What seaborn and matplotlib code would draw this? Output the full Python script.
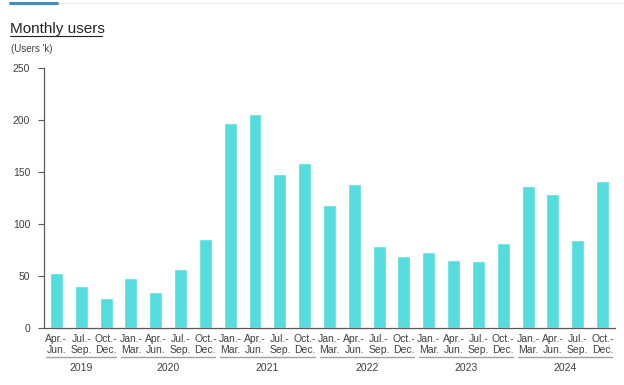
import numpy as np
import pandas as pd
import matplotlib
matplotlib.use("Agg")
import matplotlib.pyplot as plt
from matplotlib.lines import Line2D
import seaborn as sns

years = ["2019", "2020", "2021", "2022", "2023", "2024"]
quarters_per_year = [3, 4, 4, 4, 4, 4]
quarter_labels = ["Apr.-\nJun.", "Jul.-\nSep.", "Oct.-\nDec.",
                  "Jan.-\nMar.", "Apr.-\nJun.", "Jul.-\nSep.", "Oct.-\nDec.",
                  "Jan.-\nMar.", "Apr.-\nJun.", "Jul.-\nSep.", "Oct.-\nDec.",
                  "Jan.-\nMar.", "Apr.-\nJun.", "Jul.-\nSep.", "Oct.-\nDec.",
                  "Jan.-\nMar.", "Apr.-\nJun.", "Jul.-\nSep.", "Oct.-\nDec.",
                  "Jan.-\nMar.", "Apr.-\nJun.", "Jul.-\nSep.", "Oct.-\nDec."]
users = [53, 40, 29, 48, 35, 57, 86, 197, 206, 148, 159, 118, 138,
         79, 69, 73, 65, 64, 82, 137, 129, 85, 141]

df = pd.DataFrame({"period": [f"p{i}" for i in range(len(users))], "users": users})

sns.set_style("white")
plt.rcParams["font.family"] = ["Liberation Sans", "DejaVu Sans"]

fig = plt.figure(figsize=(6.24, 3.85), dpi=100)
ax = fig.add_axes([0.0705, 0.148, 0.915, 0.6754])

sns.barplot(data=df, x="period", y="users", color="#55DDDD", saturation=1,
            width=0.52, ax=ax)

ax.set_xlim(-0.5, len(users) - 0.5)
ax.set_ylim(0, 250)
ax.set_yticks([0, 50, 100, 150, 200, 250])
ax.set_xticks(range(len(users)))
ax.set_xticklabels(quarter_labels, fontsize=7.5, color="#404040", linespacing=1.2)
ax.tick_params(axis="y", labelsize=7.5, labelcolor="#404040", left=True,
               length=4, width=0.8, color="#595959", pad=6)
ax.tick_params(axis="x", bottom=False, pad=0.5)
ax.set_xlabel("")
ax.set_ylabel("")
for side in ["top", "right"]:
    ax.spines[side].set_visible(False)
for side in ["left", "bottom"]:
    ax.spines[side].set_color("#595959")
    ax.spines[side].set_linewidth(0.9)

# year group labels
trans = ax.get_xaxis_transform()
start = 0
for yr, n in zip(years, quarters_per_year):
    end = start + n - 1
    ax.plot([start - 0.4, end + 0.4], [-0.112, -0.112], transform=trans,
            color="#A0A0A0", lw=1.0, clip_on=False)
    ax.text((start + end) / 2, -0.155, yr, transform=trans, ha="center",
            va="center", fontsize=7.5, color="#404040")
    start = end + 1

# header decorations
fig.add_artist(Line2D([0.016, 1.0], [0.992, 0.992], color="#EEEEEE", lw=1.0))
fig.add_artist(Line2D([0.016, 0.091], [0.993, 0.993], color="#3C8DC8", lw=2.2))

fig.text(0.016, 0.924, "Monthly users", fontsize=11, color="#222222",
         ha="left", va="center")
fig.add_artist(Line2D([0.016, 0.164], [0.906, 0.906], color="#222222", lw=0.8))
fig.text(0.018, 0.873, "(Users 'k)", fontsize=7, color="#404040",
         ha="left", va="center")

fig.savefig("out.png", dpi=100)
